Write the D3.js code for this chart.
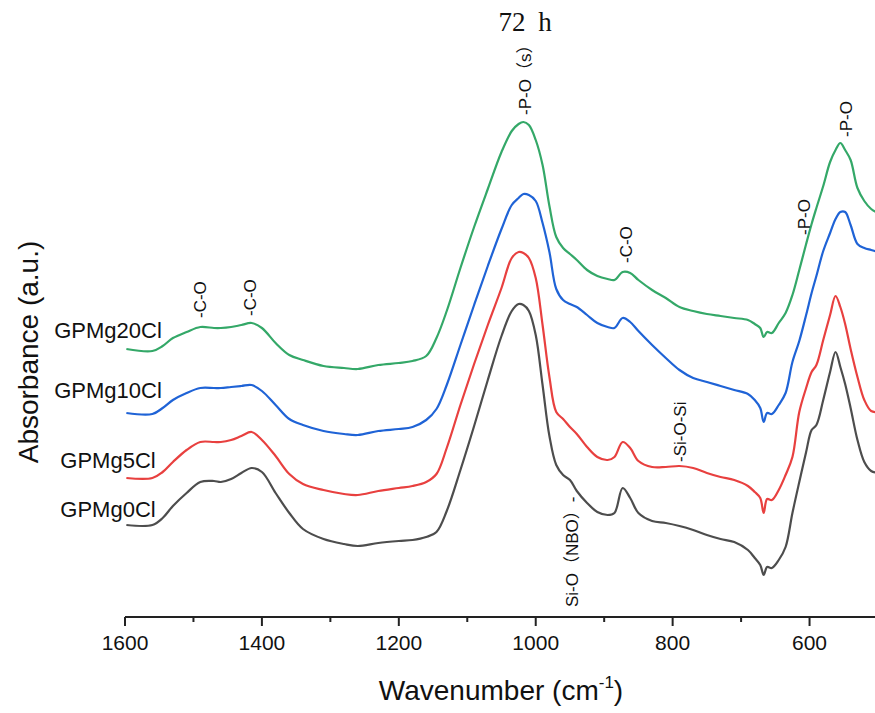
<!DOCTYPE html>
<html>
<head>
<meta charset="utf-8">
<script src="https://cdn.jsdelivr.net/npm/d3@7"></script>
<style>
  html, body { margin: 0; padding: 0; background: #fff; }
  svg { display: block; }
  text { fill: #111; }
</style>
</head>
<body>
<svg id="chart" width="875" height="713"></svg>
<script>
// FTIR spectra after 72 h, stacked with vertical offsets
const wavenumbers = [1598,1560,1545,1530,1510,1490,1470,1460,1445,1430,
  1415,1400,1380,1360,1340,1310,1280,1260,1230,1200,
  1180,1160,1145,1130,1110,1090,1070,1050,1035,1025,
  1018,1010,1000,990,980,970,960,950,940,925,
  910,895,885,873,862,850,830,810,790,770,
  750,730,710,690,680,672,667,662,655,645,
  635,625,615,605,597,590,580,570,562,555,
  548,540,530,520,510,500];

const gpmg0 = [0.92,0.92,0.99,1.11,1.24,1.35,1.36,1.35,1.38,1.44,
  1.49,1.45,1.24,1.04,0.88,0.78,0.73,0.71,0.74,0.76,
  0.77,0.80,0.85,1.06,1.47,1.91,2.37,2.81,3.06,3.13,
  3.12,3.06,2.82,2.32,1.81,1.52,1.42,1.37,1.26,1.14,
  1.05,1.02,1.04,1.29,1.19,1.04,0.96,0.94,0.91,0.87,
  0.82,0.78,0.75,0.67,0.59,0.52,0.42,0.50,0.49,0.57,
  0.70,1.04,1.35,1.65,1.87,1.92,2.17,2.45,2.65,2.50,
  2.33,2.09,1.77,1.55,1.46,1.44];

const gpmg5 = [1.39,1.39,1.45,1.55,1.67,1.75,1.75,1.75,1.77,1.81,
  1.85,1.77,1.61,1.43,1.33,1.27,1.23,1.22,1.26,1.29,
  1.31,1.35,1.43,1.69,2.12,2.53,2.92,3.29,3.59,3.65,
  3.64,3.59,3.39,2.92,2.40,2.05,1.98,1.90,1.83,1.70,
  1.60,1.57,1.60,1.75,1.69,1.56,1.50,1.50,1.51,1.49,
  1.44,1.40,1.37,1.31,1.25,1.19,1.04,1.18,1.17,1.27,
  1.42,1.60,2.05,2.29,2.45,2.52,2.77,3.02,3.21,3.10,
  2.93,2.68,2.40,2.17,2.06,2.05];

const gpmg10 = [2.04,2.03,2.09,2.17,2.24,2.29,2.29,2.29,2.30,2.31,
  2.32,2.26,2.12,1.98,1.92,1.86,1.83,1.82,1.86,1.88,
  1.90,1.97,2.08,2.32,2.72,3.12,3.51,3.88,4.12,4.19,
  4.23,4.22,4.16,3.94,3.65,3.28,3.17,3.13,3.10,3.02,
  2.94,2.90,2.89,2.99,2.95,2.86,2.72,2.59,2.47,2.39,
  2.35,2.31,2.27,2.23,2.17,2.09,1.95,2.04,2.03,2.12,
  2.24,2.55,2.76,3.02,3.24,3.41,3.66,3.84,3.98,4.05,
  4.05,3.92,3.73,3.69,3.67,3.65];

const gpmg20 = [2.68,2.66,2.71,2.79,2.85,2.90,2.89,2.89,2.90,2.92,
  2.94,2.89,2.74,2.62,2.57,2.51,2.49,2.48,2.52,2.54,
  2.56,2.61,2.79,3.06,3.49,3.90,4.28,4.65,4.86,4.93,
  4.95,4.92,4.77,4.52,4.11,3.80,3.69,3.63,3.57,3.47,
  3.41,3.38,3.37,3.45,3.44,3.37,3.27,3.19,3.10,3.06,
  3.03,3.01,2.99,2.97,2.93,2.89,2.80,2.85,2.84,2.94,
  3.04,3.22,3.47,3.73,3.93,4.09,4.31,4.55,4.67,4.74,
  4.67,4.57,4.29,4.16,4.08,4.04];

const seriesNames = ["GPMg0Cl", "GPMg5Cl", "GPMg10Cl", "GPMg20Cl"];
const seriesValues = [gpmg0, gpmg5, gpmg10, gpmg20];
const seriesColors = ["#4d4d4d", "#e8403f", "#1f63d6", "#34a868"];

const xTicks = [1600, 1400, 1200, 1000, 800, 600];
const xMinorTicks = [1500, 1300, 1100, 900, 700, 500];

// band assignments: label text and wavenumber position
const bandLabels = ["-C-O", "-C-O", "-P-O（s）", "-C-O", "-P-O", "-P-O", "-Si-O-Si", "Si-O（NBO）-"];
const bandWavenumbers = [1490, 1417, 1016, 868, 608, 547, 789, 947];

const SANS = "'Liberation Sans', Arial, 'Noto Sans CJK SC', sans-serif";
const SERIF = "'Liberation Serif', 'DejaVu Serif', serif";

const svg = d3.select("#chart");
const axisY = 617;

const x = d3.scaleLinear().domain([1600, 500]).range([125, 878]);
const y = d3.scaleLinear().domain([0, 6.17]).range([axisY, 0]);

// spectra
const line = d3.line()
  .x(d => x(d[0]))
  .y(d => y(d[1]))
  .curve(d3.curveCatmullRom.alpha(0.5));

seriesValues.forEach((vals, i) => {
  svg.append("path")
    .datum(wavenumbers.map((w, k) => [w, vals[k]]))
    .attr("fill", "none")
    .attr("stroke", seriesColors[i])
    .attr("stroke-width", 2.2)
    .attr("stroke-linejoin", "round")
    .attr("d", line);
});

// bottom axis
const axisG = svg.append("g").attr("transform", `translate(0,${axisY})`);
axisG.append("line")
  .attr("x1", x(1600)).attr("x2", 875)
  .attr("y1", 0).attr("y2", 0)
  .attr("stroke", "#222").attr("stroke-width", 2);
axisG.selectAll(".major").data(xTicks).join("line")
  .attr("x1", d => x(d)).attr("x2", d => x(d))
  .attr("y1", 0).attr("y2", 9)
  .attr("stroke", "#222").attr("stroke-width", 2);
axisG.selectAll(".minor").data(xMinorTicks).join("line")
  .attr("x1", d => x(d)).attr("x2", d => x(d))
  .attr("y1", 0).attr("y2", 5)
  .attr("stroke", "#222").attr("stroke-width", 2);
axisG.selectAll(".tl").data(xTicks).join("text")
  .attr("x", d => x(d)).attr("y", 33)
  .attr("text-anchor", "middle")
  .style("font-family", SANS)
  .style("font-size", "21px")
  .text(d => d);

// axis titles
const xTitle = svg.append("text")
  .attr("x", 501).attr("y", 700)
  .attr("text-anchor", "middle")
  .style("font-family", SANS)
  .style("font-size", "28px");
xTitle.append("tspan").text("Wavenumber (cm");
xTitle.append("tspan").style("font-size", "17px").attr("dy", -12).text("-1");
xTitle.append("tspan").attr("dy", 12).text(")");

svg.append("text")
  .attr("transform", "translate(38,352) rotate(-90)")
  .attr("text-anchor", "middle")
  .style("font-family", SANS)
  .style("font-size", "28px")
  .text("Absorbance (a.u.)");

// title
svg.append("text")
  .attr("x", 525).attr("y", 31)
  .attr("text-anchor", "middle")
  .style("font-family", SERIF)
  .style("font-size", "27px")
  .style("word-spacing", "6px")
  .text("72 h");

// sample names
const nameY = [517, 468, 398, 338];
seriesNames.forEach((n, i) => {
  svg.append("text")
    .attr("x", 108).attr("y", nameY[i])
    .attr("text-anchor", "middle")
    .style("font-family", SANS)
    .style("font-size", "22px")
    .text(n);
});

// band assignments (vertical text)
const bandBottoms = [318, 316, 115, 263, 235, 137, 462, 607];
bandLabels.forEach((t, i) => {
  svg.append("text")
    .attr("transform", `translate(${x(bandWavenumbers[i]) + 6},${bandBottoms[i]}) rotate(-90)`)
    .style("font-family", SANS)
    .style("font-size", "17px")
    .text(t);
});
</script>
</body>
</html>
